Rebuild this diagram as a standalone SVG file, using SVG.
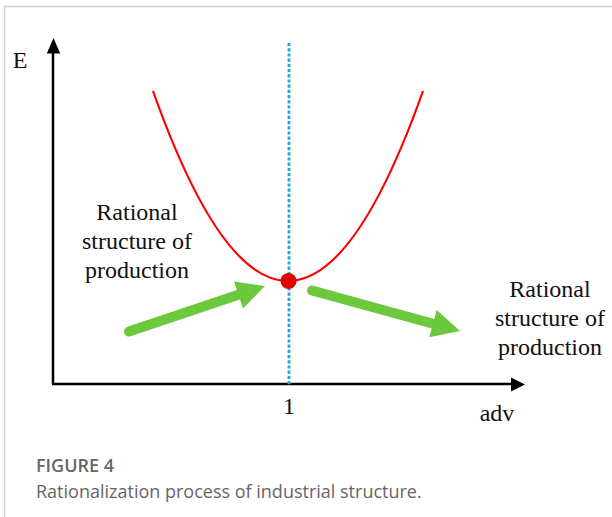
<svg xmlns="http://www.w3.org/2000/svg" width="612" height="517" viewBox="0 0 612 517">
<style>
.lbl{font-family:"Liberation Serif","Times New Roman",serif;font-size:24px;fill:#111;text-anchor:middle}
.axis{stroke:#000;stroke-width:2.5;fill:none}
.green{stroke:#6cc83c;stroke-width:10;stroke-linecap:round;fill:none}
.greenhead{fill:#6cc83c}
.cap{font-family:"Open Sans","Noto Sans",sans-serif;font-size:18px;fill:#666}
</style>
<rect x="0" y="0" width="612" height="517" fill="#fff"/>
<path d="M4.5,517 V6.5 H612" fill="none" stroke="#cfcfcf" stroke-width="1.5"/>

<g id="axes">
<line class="axis" x1="53" y1="384" x2="53" y2="50"/>
<polygon points="53.5,38 46.8,53.5 60.2,53.5" fill="#000"/>
<line class="axis" x1="52" y1="384" x2="514" y2="384"/>
<polygon points="525,384.5 511,377.5 511,391.5" fill="#000"/>
<text class="lbl" x="20" y="68">E</text>
<text class="lbl" x="289" y="414">1</text>
<text class="lbl" x="497" y="421">adv</text>
</g>

<g id="divider">
<line x1="289" y1="43" x2="289" y2="386" stroke="#1ea6e0" stroke-width="2.8" stroke-dasharray="3.2 2"/>
</g>

<g id="curve">
<path d="M153,91 Q288,471 423,91" fill="none" stroke="#f00" stroke-width="2.2"/>
</g>

<g id="optimum">
<circle cx="288.5" cy="281" r="8" fill="#e00000"/>
</g>

<g id="connectors">
<g id="arrow-left">
<line class="green" x1="129" y1="331.5" x2="240" y2="294.3"/>
<polygon class="greenhead" points="265,286 243,308.5 234,281.5"/>
</g>
<g id="arrow-right">
<line class="green" x1="312" y1="290.5" x2="435" y2="324.2"/>
<polygon class="greenhead" points="460,331 429.3,337.3 436.7,310"/>
</g>
</g>

<g id="label-left">
<text class="lbl" x="137" y="220">Rational</text>
<text class="lbl" x="137" y="249">structure of</text>
<text class="lbl" x="137" y="278">production</text>
</g>

<g id="label-right">
<text class="lbl" x="550" y="297">Rational</text>
<text class="lbl" x="550" y="326">structure of</text>
<text class="lbl" x="550" y="355">production</text>
</g>

<g id="caption">
<text class="cap" x="36" y="472" font-weight="600">FIGURE 4</text>
<text class="cap" x="36" y="498">Rationalization process of industrial structure.</text>
</g>
</svg>
